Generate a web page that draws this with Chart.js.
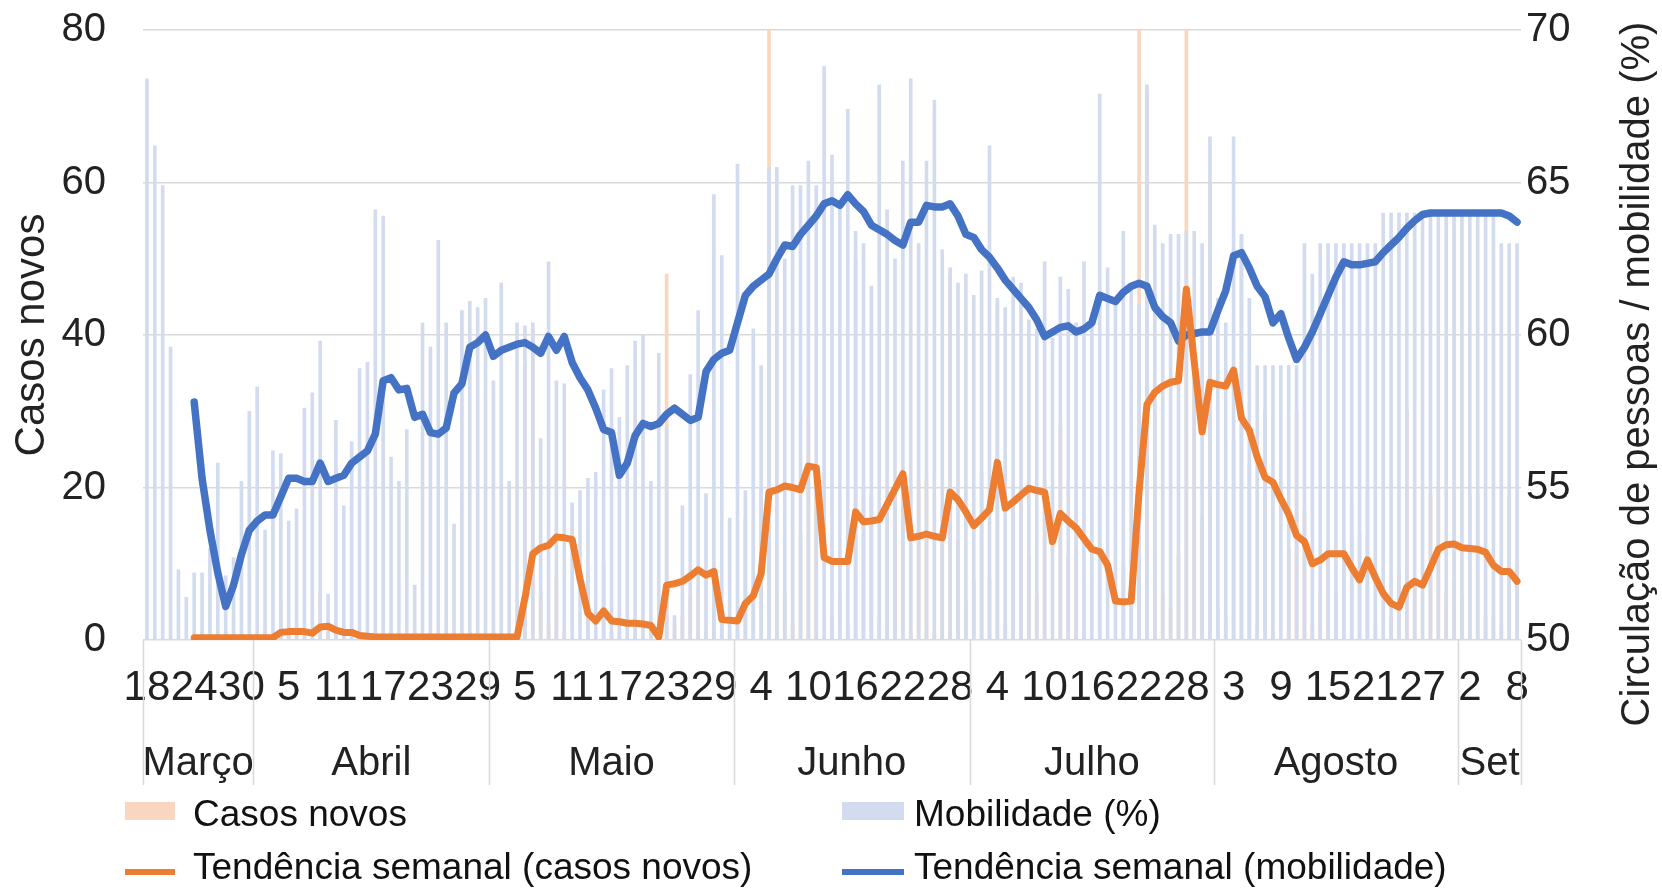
<!DOCTYPE html>
<html>
<head>
<meta charset="utf-8">
<script src="https://cdn.jsdelivr.net/npm/chart.js@4.4.1/dist/chart.umd.min.js"></script>
<style>
  html, body { margin: 0; padding: 0; background: #fff; }
  #chart { display: block; }
</style>
</head>
<body>
<canvas id="chart" width="1662" height="890"></canvas>
<script>
// months shown under the axis and how many days of each are plotted (18 Mar - 8 Set)
const months = ['Março', 'Abril', 'Maio', 'Junho', 'Julho', 'Agosto', 'Set'];
const monthDays = [14, 30, 31, 30, 31, 31, 8];
const monthNumbers = [3, 4, 5, 6, 7, 8, 9];
const firstDay = 18;

// labels written under every 6th day
const xTickLabels = ['18', '24', '30', '5', '11', '17', '23', '29', '5', '11', '17', '23', '29',
    '4', '10', '16', '22', '28', '4', '10', '16', '22', '28', '3', '9', '15', '21', '27', '2', '8'];
const tickStep = 6;

const categories = [];
monthDays.forEach((n, m) => {
    const start = m === 0 ? firstDay : 1;
    for (let d = start; d < start + n; d++) categories.push(d + '/' + monthNumbers[m]);
});

// daily new cases (left axis)
const casosNovos = [
    0, 0, 0, 0, 0, 0, 0, 1, 0, 0,
    1, 0, 0, 0, 0, 1, 0, 5, 1, 0,
    0, 0, 6, 1, 1, 0, 0, 0, 0, 1,
    0, 1, 0, 0, 1, 0, 1, 0, 0, 1,
    0, 1, 0, 0, 1, 0, 0, 1, 36, 41,
    6, 2, 8, 1, 0, 0, 9, 0, 10, 1,
    1, 0, 1, 0, 1, 0, 48, 2, 3, 6,
    7, 1, 4, 4, 1, 2, 16, 7, 20, 80,
    6, 6, 2, 14, 29, 19, 0, 3, 6, 2,
    50, 20, 19, 3, 16, 20, 16, 1, 21, 21,
    1, 15, 48, 13, 5, 8, 22, 8, 44, 2,
    18, 19, 11, 6, 21, 0, 28, 11, 12, 1,
    0, 19, 0, 0, 10, 13, 80, 72, 30, 6,
    4, 11, 80, 34, 16, 60, 4, 3, 26, 53,
    23, 2, 30, 1, 0, 12, 30, 17, 2, 6,
    12, 6, 12, 18, 14, 20, 2, 0, 3, 9,
    30, 8, 0, 19, 20, 6, 8, 6, 19, 19,
    3, 3, 2, 19, 10
];

// daily mobility, % (right axis)
const mobilidade = [
    68.4, 66.2, 64.9, 59.6, 52.3, 51.4, 52.2, 52.2, 53.0, 55.8,
    52.1, 52.7, 55.2, 57.5, 58.3, 53.6, 56.2, 56.1, 53.9, 54.3,
    57.6, 58.1, 59.8, 51.5, 57.2, 54.4, 56.5, 58.9, 59.1, 64.1,
    63.9, 56.0, 55.2, 56.9, 51.8, 60.4, 59.6, 63.1, 60.4, 53.8,
    60.8, 61.1, 60.9, 61.2, 58.5, 61.7, 55.2, 60.4, 60.3, 60.4,
    56.6, 62.4, 58.5, 58.4, 54.5, 54.9, 55.3, 55.5, 58.2, 58.9,
    57.3, 59.0, 59.8, 60.0, 55.2, 59.4, 57.0, 50.8, 54.4, 58.7,
    60.8, 54.8, 64.6, 62.6, 54.0, 65.6, 54.9, 60.2, 59.0, 65.5,
    65.5, 62.5, 64.9, 64.9, 65.7, 64.9, 68.8, 65.9, 64.2, 67.4,
    63.4, 63.0, 61.6, 68.2, 64.1, 62.5, 65.7, 68.4, 63.0, 65.7,
    67.7, 62.8, 62.2, 61.7, 62.0, 61.3, 62.1, 66.2, 61.2, 60.9,
    61.9, 61.7, 60.5, 60.2, 62.4, 59.9, 61.9, 61.5, 60.4, 62.4,
    60.7, 67.9, 62.2, 61.2, 63.4, 61.5, 61.0, 68.2, 63.6, 63.0,
    63.3, 63.3, 63.4, 63.4, 63.0, 66.5, 61.2, 60.4, 66.5, 63.3,
    61.2, 59.0, 59.0, 59.0, 59.0, 59.0, 59.0, 63.0, 62.0, 63.0,
    63.0, 63.0, 63.0, 63.0, 63.0, 63.0, 63.0, 64.0, 64.0, 64.0,
    64.0, 64.0, 64.0, 64.0, 64.0, 64.0, 64.0, 64.0, 64.0, 64.0,
    64.0, 64.0, 63.0, 63.0, 63.0
];

// weekly trend of new cases (left axis)
const tendenciaCasos = [
    null, null, null, null, null, null,
    0.3, 0.3, 0.3, 0.3, 0.3, 0.3, 0.3, 0.3, 0.3, 0.3, 0.3,
    1.0, 1.1, 1.1, 1.1, 0.9, 1.7, 1.8, 1.3, 1.0, 1.0, 0.6, 0.5,
    0.4, 0.4, 0.4, 0.4, 0.4, 0.4, 0.4, 0.4, 0.4, 0.4, 0.4, 0.4, 0.4, 0.4, 0.4, 0.4, 0.4, 0.4, 0.4,
    5.5, 11.3, 12.1, 12.4, 13.5, 13.4, 13.2,
    8.0, 3.5, 2.5, 3.8, 2.5, 2.4, 2.2, 2.2, 2.1, 1.9, 0.4,
    7.2, 7.4, 7.7, 8.4, 9.2, 8.5, 9.0,
    2.7, 2.6, 2.5, 4.8, 5.8, 8.7,
    19.4, 19.7, 20.2, 20.0, 19.7, 22.8, 22.6,
    10.8, 10.3, 10.3, 10.3,
    16.8, 15.5, 15.6, 15.8, 17.8, 19.8, 21.8,
    13.4, 13.6, 13.9, 13.6, 13.4,
    19.4, 18.4, 16.8, 15.0, 16.0, 17.1,
    23.3, 17.3, 18.1, 19.0, 19.9, 19.6, 19.4,
    12.9, 16.6, 15.6, 14.7, 13.3, 11.9, 11.6,
    9.8, 5.1, 5.0, 5.1,
    19.5, 30.9, 32.5, 33.3, 33.8, 34.0,
    46.0, 36.5, 27.3, 33.8, 33.5, 33.3, 35.4, 29.1, 27.5,
    24.0, 21.3, 20.7, 18.5, 16.5, 13.7, 12.9, 10.0,
    10.5, 11.3, 11.3, 11.3, 9.5, 7.9, 10.5, 8.2,
    6.1, 4.8, 4.3, 6.9, 7.7, 7.2,
    9.5, 11.9, 12.5, 12.6, 12.1, 12.0, 11.9, 11.5,
    9.8, 9.0, 9.0, 7.7
];

// weekly trend of mobility, % (right axis)
const tendenciaMobilidade = [
    null, null, null, null, null, null,
    57.8, 55.3, 53.6, 52.2,
    51.1, 51.8, 52.8, 53.6, 53.9, 54.1, 54.1, 54.7, 55.3, 55.3,
    55.2, 55.2, 55.8, 55.2, 55.3, 55.4, 55.8, 56.0, 56.2, 56.75,
    58.5, 58.6, 58.2, 58.25, 57.3, 57.4, 56.8, 56.75, 56.95, 58.1,
    58.4, 59.6, 59.75, 60.0, 59.3, 59.5, 59.6, 59.7, 59.75, 59.6,
    59.4, 59.95, 59.5, 59.95, 59.1, 58.6, 58.2, 57.6, 56.9, 56.8,
    55.4, 55.8, 56.7, 57.1, 57.0, 57.1, 57.4, 57.6, 57.4, 57.2,
    57.3, 58.8, 59.2, 59.4, 59.5, 60.4, 61.3, 61.6, 61.8, 62.0,
    62.5, 62.95, 62.9, 63.3, 63.6, 63.9, 64.3, 64.4, 64.25, 64.6,
    64.3, 64.05, 63.6, 63.45, 63.3, 63.1, 62.95, 63.7, 63.7, 64.25,
    64.2, 64.2, 64.3, 63.9, 63.3, 63.2, 62.8, 62.55, 62.2, 61.8,
    61.5, 61.2, 60.9, 60.5, 59.95, 60.1, 60.25, 60.3, 60.1, 60.2,
    60.4, 61.3, 61.2, 61.1, 61.4, 61.6, 61.7, 61.6, 60.9, 60.6,
    60.4, 59.8, 60.0, 60.05, 60.1, 60.1, 60.8, 61.45, 62.6, 62.7,
    62.2, 61.6, 61.25, 60.4, 60.7, 59.9, 59.2, 59.6, 60.1, 60.7,
    61.3, 61.9, 62.4, 62.3, 62.3, 62.35, 62.4, 62.7, 62.95, 63.2,
    63.5, 63.75, 63.95, 64.0, 64.0, 64.0, 64.0, 64.0, 64.0, 64.0,
    64.0, 64.0, 64.0, 63.9, 63.7
];

const FONT = '"Liberation Sans", Arial, sans-serif';
const textColor = '#222';
const gridColor = '#d9d9d9';

// month names, separators under the axis, right title and the 2x2 legend
const extras = {
    id: 'extras',
    afterDraw(chart) {
        const {ctx, chartArea, scales: {x}} = chart;
        const half = (x.getPixelForValue(1) - x.getPixelForValue(0)) / 2;
        ctx.save();
        ctx.strokeStyle = gridColor;
        ctx.lineWidth = 1.5;
        ctx.fillStyle = textColor;
        ctx.font = '40px ' + FONT;
        ctx.textAlign = 'center';
        ctx.textBaseline = 'alphabetic';
        let start = 0;
        const edges = [x.getPixelForValue(0) - half];
        monthDays.forEach((n, m) => {
            const left = x.getPixelForValue(start) - half;
            const right = x.getPixelForValue(start + n - 1) + half;
            ctx.fillText(months[m], (left + right) / 2, 775);
            edges.push(right);
            start += n;
        });
        edges.forEach(px => {
            ctx.beginPath();
            ctx.moveTo(Math.round(px) + 0.5, chartArea.bottom);
            ctx.lineTo(Math.round(px) + 0.5, 785);
            ctx.stroke();
        });

        // right axis title, reading bottom to top
        ctx.save();
        ctx.translate(1638, 374);
        ctx.rotate(-Math.PI / 2);
        ctx.textBaseline = 'middle';
        ctx.fillText('Circulação de pessoas / mobilidade (%)', 0, 0);
        ctx.restore();

        // legend
        const ds = chart.data.datasets;
        const items = [
            {d: ds[3], x: 125, w: 50, gap: 18, row: 0},
            {d: ds[2], x: 842, w: 62, gap: 10, row: 0},
            {d: ds[0], x: 125, w: 50, gap: 18, row: 1},
            {d: ds[1], x: 842, w: 62, gap: 10, row: 1}
        ];
        ctx.font = '37px ' + FONT;
        ctx.textAlign = 'left';
        items.forEach(it => {
            const rowY = it.row === 0 ? 811 : 872;
            if (it.d.type === 'line') {
                ctx.strokeStyle = it.d.borderColor;
                ctx.lineWidth = 6;
                ctx.beginPath();
                ctx.moveTo(it.x, rowY);
                ctx.lineTo(it.x + it.w, rowY);
                ctx.stroke();
            } else {
                ctx.fillStyle = it.d.backgroundColor;
                ctx.fillRect(it.x, rowY - 9, it.w, 18);
            }
            ctx.fillStyle = '#111';
            ctx.fillText(it.d.label, it.x + it.w + it.gap, it.row === 0 ? 826 : 879);
        });
        ctx.restore();
    }
};

// fixed axis sizes so the plot area lands where the original has it
function fixVertical(width) {
    return s => {
        s.width = width;
        s.paddingTop = 0;
        s.paddingBottom = 0;
    };
}

const ctx = document.getElementById('chart').getContext('2d');
const chart = new Chart(ctx, {
    type: 'bar',
    data: {
        labels: categories,
        datasets: [
            {
                type: 'line',
                label: 'Tendência semanal (casos novos)',
                data: tendenciaCasos,
                yAxisID: 'y',
                borderColor: '#ED7D31',
                borderWidth: 7,
                pointRadius: 0,
                borderJoinStyle: 'round',
                borderCapStyle: 'round',
                order: 0
            },
            {
                type: 'line',
                label: 'Tendência semanal (mobilidade)',
                data: tendenciaMobilidade,
                yAxisID: 'y1',
                borderColor: '#4472C4',
                borderWidth: 7.5,
                pointRadius: 0,
                borderJoinStyle: 'round',
                borderCapStyle: 'round',
                order: 1
            },
            {
                label: 'Mobilidade (%)',
                data: mobilidade,
                yAxisID: 'y1',
                backgroundColor: '#d3dbee',
                barThickness: 3,
                grouped: false,
                order: 2
            },
            {
                label: 'Casos novos',
                data: casosNovos,
                yAxisID: 'y',
                backgroundColor: '#f9d6bf',
                barThickness: 3,
                grouped: false,
                order: 3
            }
        ]
    },
    options: {
        responsive: false,
        animation: false,
        layout: { padding: { top: 30, left: 0, right: 0, bottom: 0 } },
        plugins: {
            legend: { display: false },
            tooltip: { enabled: false }
        },
        scales: {
            x: {
                grid: { display: false, drawTicks: false },
                border: { display: false },
                ticks: {
                    autoSkip: false,
                    maxRotation: 0,
                    minRotation: 0,
                    padding: 23,
                    color: textColor,
                    font: { family: FONT, size: 42 },
                    callback: (v, i) => (i % tickStep === 0 ? xTickLabels[i / tickStep] : '')
                },
                afterFit: s => { s.height = 250; }
            },
            y: {
                position: 'left',
                min: 0,
                max: 80,
                ticks: { stepSize: 20, padding: 37, color: textColor, font: { family: FONT, size: 40 } },
                grid: { color: gridColor, lineWidth: 1.5, drawTicks: false },
                border: { display: false },
                title: {
                    display: true,
                    text: 'Casos novos',
                    color: textColor,
                    font: { family: FONT, size: 42 },
                    padding: { top: 7, bottom: 0 }
                },
                afterFit: fixVertical(143)
            },
            y1: {
                position: 'right',
                min: 50,
                max: 70,
                ticks: { stepSize: 5, padding: 5, color: textColor, font: { family: FONT, size: 40 } },
                grid: { display: false, drawTicks: false },
                border: { display: false },
                afterFit: fixVertical(141)
            }
        }
    },
    plugins: [extras]
});
</script>
</body>
</html>
